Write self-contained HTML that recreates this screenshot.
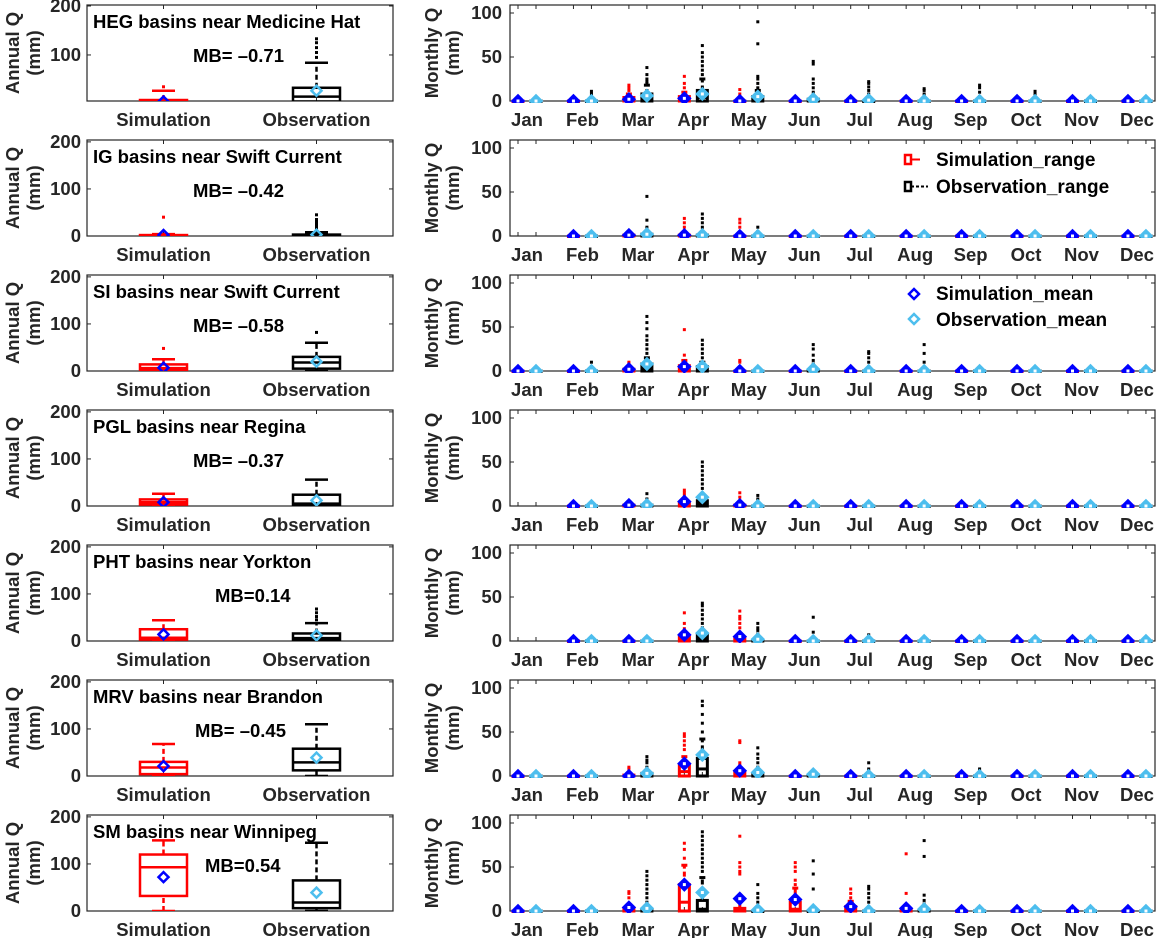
<!DOCTYPE html>
<html><head><meta charset="utf-8">
<style>
body{margin:0;background:#fff;}
svg{display:block;font-family:"Liberation Sans",sans-serif;font-weight:bold;}
</style></head>
<body>
<svg id="fig" width="1156" height="938" viewBox="0 0 1156 938" xmlns="http://www.w3.org/2000/svg"></svg>
<script>
// ---- data ----
const titles=["HEG basins near Medicine Hat","IG basins near Swift Current","SI basins near Swift Current","PGL basins near Regina","PHT basins near Yorkton","MRV basins near Brandon","SM basins near Winnipeg"];
const mbText=["MB= \u20130.71","MB= \u20130.42","MB= \u20130.58","MB= \u20130.37","MB=0.14","MB= \u20130.45","MB=0.54"];
const mbX=[193,193,193,193,215,195,205];
const months=["Jan","Feb","Mar","Apr","May","Jun","Jul","Aug","Sep","Oct","Nov","Dec"];
const annualTicks=[0,100,200];
const monthlyTicks=[0,50,100];
// annual: [lo,q1,med,q3,hi,mean,outliers]
const annualSim=[
[0,2,5,8,27,5,[35]],
[0,0,1,2,4,2,[40]],
[0,2,6,14,25,7,[48]],
[0,3,8,14,26,8,[]],
[0,3,7,25,44,14,[]],
[0,4,18,30,68,21,[]],
[0,32,93,120,150,72,[]]];
const annualObs=[
[0,5,15,33,84,27,[95,105,115,125,133]],
[0,0,1,3,8,3,[15,20,25,30,35,45]],
[0,5,18,30,60,20,[82]],
[0,2,5,24,56,12,[]],
[0,2,6,16,38,12,[45,52,60,68]],
[0,12,29,58,110,39,[]],
[0,6,18,65,145,39,[]]];
// monthly: [q1,med,q3,hi,mean,outliers] (lo=0), null = no data
const Z=[0,0,0,0,0,[]];
const monthlySim=[
[Z,Z,[0,1,4,8,2,[12,15,18]],[0,2,5,10,3,[15,20,28]],[0,0,0,0,0,[8,13]],Z,Z,Z,Z,Z,Z,Z],
[null,Z,[0,0,1,2,1,[]],[0,0,1,4,1,[10,15,20]],[0,0,0,0,0,[10,15,19]],Z,Z,Z,Z,Z,Z,Z],
[Z,Z,[0,0,2,5,2,[8,10]],[0,2,6,12,5,[18,47]],[0,0,0,0,0,[10,12]],Z,Z,Z,Z,Z,Z,Z],
[null,Z,[0,0,1,3,1,[]],[0,2,4,8,5,[12,15,18]],[0,0,1,3,1,[10,15]],Z,Z,Z,Z,Z,Z,Z],
[null,Z,Z,[0,2,5,10,7,[14,20,32]],[0,1,3,6,5,[10,15,20,25,28,34]],Z,Z,Z,Z,Z,Z,Z],
[Z,Z,[0,0,1,3,0,[8,10]],[0,5,12,22,14,[30,35,40,45,48]],[0,1,4,8,6,[12,15,38,40]],Z,Z,Z,Z,Z,Z,Z],
[Z,Z,[0,1,3,6,4,[15,20,22]],[0,10,30,52,30,[60,70,77]],[0,1,3,17,14,[42,45,50,55,85]],[0,2,10,26,13,[30,35,45,50,55]],[0,1,5,11,5,[15,20,25]],[0,0,1,3,3,[20,65]],Z,Z,Z,Z]];
const monthlyObs=[
[Z,[0,0,0,0,0,[5,8,11]],[0,3,8,18,6,[20,22,25,30,38]],[0,4,12,25,8,[30,35,40,45,50,55,63]],[0,1,5,12,5,[15,20,25,28,65,90]],[0,0,2,5,2,[10,15,20,25,42,45]],[0,0,0,0,1,[5,8,12,16,20,22]],[0,0,0,0,0,[5,8,12,14]],[0,0,0,0,0,[5,10,15,18]],[0,0,0,0,0,[5,8,11]],Z,Z],
[null,Z,[0,1,2,5,2,[10,18,45]],[0,0,1,4,1,[10,15,20,25]],[0,0,0,0,0,[5,10]],Z,Z,Z,Z,Z,Z,Z],
[Z,[0,0,0,0,0,[5,10]],[0,3,8,15,8,[20,25,30,35,40,48,55,62]],[0,2,5,10,5,[15,20,25,30,35]],Z,[0,0,1,3,2,[8,12,18,25,30]],[0,0,0,0,0,[5,10,15,20,22]],[0,0,0,0,0,[10,20,30]],Z,Z,Z,Z],
[null,Z,[0,0,1,3,1,[8,14]],[0,3,6,12,10,[20,25,30,35,40,45,50]],[0,0,0,2,0,[8,12]],[0,0,0,0,0,[3]],Z,Z,Z,Z,Z,Z],
[null,Z,Z,[0,3,8,12,9,[15,20,25,30,35,40,43]],[0,0,1,3,2,[8,12,15,20]],[0,0,0,0,0,[10,27]],[0,0,0,0,0,[7]],Z,Z,Z,Z,Z],
[Z,Z,[0,1,3,6,3,[10,15,18,22]],[0,8,20,42,24,[50,60,70,80,85]],[0,0,2,6,4,[10,15,20,25,32]],[0,0,1,2,2,[4]],[0,0,0,0,0,[8,15]],Z,[0,0,0,0,0,[5,8]],Z,Z,Z],
[Z,Z,[0,1,2,6,3,[10,15,20,25,30,35,40,45]],[0,2,12,38,21,[45,50,55,60,65,70,75,80,85,90]],[0,0,0,1,1,[5,10,15,20,30]],[0,0,0,1,1,[5,25,42,57]],[0,0,0,0,0,[5,10,15,20,25,28]],[0,0,1,3,2,[8,12,18,62,80]],[0,0,0,0,0,[3]],Z,Z,Z]];

// ---- drawing ----
const NS="http://www.w3.org/2000/svg";
const svg=document.getElementById('fig');
function el(tag,attrs,parent){const e=document.createElementNS(NS,tag);for(const k in attrs)e.setAttribute(k,attrs[k]);(parent||svg).appendChild(e);return e;}
const LX0=87,LX1=393,RX0=510,RX1=1155,PH=96;
const TXT="#262626";
const FS=18.5;
function diamond(g,x,y,h,stroke,fill,sw){return el('polygon',{points:`${x},${y-h} ${x+h},${y} ${x},${y+h} ${x-h},${y}`,fill:fill,stroke:stroke,'stroke-width':sw},g);}
function drawBox(g,x,w,d,ys,col,lw,capW,dotS){
  const lo=0;
  const [q1,med,q3,hi,mean,outs]=d;
  el('line',{x1:x,x2:x,y1:ys(q3),y2:ys(hi),stroke:col,'stroke-width':lw,'stroke-dasharray':'5,3'},g);
  el('line',{x1:x,x2:x,y1:ys(lo),y2:ys(q1),stroke:col,'stroke-width':lw,'stroke-dasharray':'5,3'},g);
  el('line',{x1:x-capW/2,x2:x+capW/2,y1:ys(hi),y2:ys(hi),stroke:col,'stroke-width':lw},g);
  el('line',{x1:x-capW/2,x2:x+capW/2,y1:ys(lo),y2:ys(lo),stroke:col,'stroke-width':lw},g);
  el('rect',{x:x-w/2,y:ys(q3),width:w,height:Math.max(0.5,ys(q1)-ys(q3)),fill:'none',stroke:col,'stroke-width':lw},g);
  el('line',{x1:x-w/2,x2:x+w/2,y1:ys(med),y2:ys(med),stroke:col,'stroke-width':lw},g);
  outs.forEach(o=>{const r=el('rect',{x:x-dotS/2,y:ys(o)-dotS/2,width:dotS,height:dotS,fill:col},g);
    
    });
}
for(let p=0;p<7;p++){
  const top=5+135*p, bot=top+PH;
  // ---- annual panel ----
  const ga=el('g',{}); 
  
  
  const ymin=p===0?6:0, ymax=p===0?202:204;
  const ya=v=>bot-(v-ymin)/(ymax-ymin)*PH;
  el('rect',{x:LX0,y:top,width:LX1-LX0,height:PH,fill:'#fff',stroke:'#262626','stroke-width':1.2},ga);
  annualTicks.forEach(t=>{if(t<ymin)return;const y=ya(t);
    el('line',{x1:LX0,x2:LX0+4,y1:y,y2:y,stroke:'#262626','stroke-width':1},ga);
    el('line',{x1:LX1,x2:LX1-4,y1:y,y2:y,stroke:'#262626','stroke-width':1},ga);
    const tx=el('text',{x:LX0-6,y:y+6,'text-anchor':'end','font-size':FS,fill:TXT},ga);tx.textContent=t;});
  const cats=["Simulation","Observation"], cx=[LX0+(LX1-LX0)*0.25,LX0+(LX1-LX0)*0.75];
  cats.forEach((c,i)=>{
    el('line',{x1:cx[i],x2:cx[i],y1:bot,y2:bot-4,stroke:'#262626'},ga);
    el('line',{x1:cx[i],x2:cx[i],y1:top,y2:top+4,stroke:'#262626'},ga);
    const t=el('text',{x:cx[i],y:bot+25,'text-anchor':'middle','font-size':FS,fill:TXT},ga);t.textContent=c;});
  const yl=el('text',{transform:`translate(19,${top+PH/2}) rotate(-90)`,'text-anchor':'middle','font-size':FS,fill:TXT},ga);yl.textContent='Annual Q';
  const yl2=el('text',{transform:`translate(40,${top+PH/2}) rotate(-90)`,'text-anchor':'middle','font-size':FS,fill:TXT},ga);yl2.textContent='(mm)';
  const tt=el('text',{x:93,y:top+23,'font-size':FS,fill:'#000'},ga);tt.textContent=titles[p];
  
  
  const mb=el('text',{x:mbX[p],y:top+57,'font-size':FS,fill:'#000'},ga);mb.textContent=mbText[p];
  
  
  const clipA=el('clipPath',{id:'ca'+p},ga);el('rect',{x:LX0,y:top,width:LX1-LX0,height:PH},clipA);
  const gb=el('g',{'clip-path':`url(#ca${p})`},ga);
  [[annualSim,'#ff0000','#0000ff'],[annualObs,'#000000','#4dbeee']].forEach(([arr,col,mc],i)=>{
    const d=arr[p];
    const g=el('g',{},gb);
    
    
    drawBox(g,cx[i],47,[d[1],d[2],d[3],d[4],d[5],d[6]],ya,col,2.5,23,3);
    const m=diamond(g,cx[i],ya(d[5]),5,mc,'none',2.5);
    
    
  });
  // ---- monthly panel ----
  const gm=el('g',{});
  
  
  const ym=v=>bot-v*0.88;
  el('rect',{x:RX0,y:top,width:RX1-RX0,height:PH,fill:'#fff',stroke:'#262626','stroke-width':1.2},gm);
  monthlyTicks.forEach(t=>{const y=ym(t);
    el('line',{x1:RX0,x2:RX0+4,y1:y,y2:y,stroke:'#262626'},gm);
    el('line',{x1:RX1,x2:RX1-4,y1:y,y2:y,stroke:'#262626'},gm);
    const tx=el('text',{x:RX0-8,y:y+6,'text-anchor':'end','font-size':FS,fill:TXT},gm);tx.textContent=t;});
  const ml=el('text',{transform:`translate(438,${top+PH/2}) rotate(-90)`,'text-anchor':'middle','font-size':FS,fill:TXT},gm);ml.textContent='Monthly Q';
  const ml2=el('text',{transform:`translate(459,${top+PH/2}) rotate(-90)`,'text-anchor':'middle','font-size':FS,fill:TXT},gm);ml2.textContent='(mm)';
  const mx=i=>518+55.45*i;
  months.forEach((m,i)=>{
    [mx(i),mx(i)+18].forEach(x=>{
      el('line',{x1:x,x2:x,y1:top,y2:top+4,stroke:'#262626'},gm);
      el('line',{x1:x,x2:x,y1:bot,y2:bot-4,stroke:'#262626'},gm);});
    const t=el('text',{x:mx(i)+9,y:bot+25,'text-anchor':'middle','font-size':FS,fill:TXT},gm);t.textContent=m;
  });
  const clipM=el('clipPath',{id:'cm'+p},gm);el('rect',{x:RX0,y:top-2,width:RX1-RX0,height:PH+4},clipM);
  const gc=el('g',{'clip-path':`url(#cm${p})`},gm);
  [[monthlySim,'#ff0000','#0000ff',0],[monthlyObs,'#000000','#4dbeee',18]].forEach(([arr,col,mc,off],si)=>{
    arr[p].forEach((d,i)=>{
      if(!d)return;
      const x=mx(i)+off;
      const g=el('g',{},gc);
      
      
      drawBox(g,x,10,d,ym,col,3,6,3);
      const m=diamond(g,x,ym(d[4]),5.5,mc,mc,2.5);
      
      
      el('rect',{x:x-1.5,y:ym(d[4])-1.5,width:3,height:3,fill:'#fff'},g);
    });
  });
}
// legends
const lg1=el('g',{});


el('rect',{x:905,y:155,width:6,height:9,fill:'none',stroke:'#ff0000','stroke-width':2.5},lg1);
el('line',{x1:911,x2:920,y1:159.5,y2:159.5,stroke:'#ff0000','stroke-width':2},lg1);
el('rect',{x:905,y:182,width:6,height:9,fill:'none',stroke:'#000','stroke-width':2.5},lg1);
el('line',{x1:911,x2:928,y1:186.5,y2:186.5,stroke:'#000','stroke-width':2,'stroke-dasharray':'3,2'},lg1);
let t=el('text',{x:936,y:166,'font-size':19,fill:'#000'},lg1);t.textContent='Simulation_range';
t=el('text',{x:936,y:193,'font-size':19,fill:'#000'},lg1);t.textContent='Observation_range';
const lg2=el('g',{});


diamond(lg2,914,294,5,'#0000ff','none',2.5);
diamond(lg2,914,319,5,'#4dbeee','none',2.5);
t=el('text',{x:936,y:300,'font-size':19,fill:'#000'},lg2);t.textContent='Simulation_mean';
t=el('text',{x:936,y:326,'font-size':19,fill:'#000'},lg2);t.textContent='Observation_mean';
</script>
</body></html>
